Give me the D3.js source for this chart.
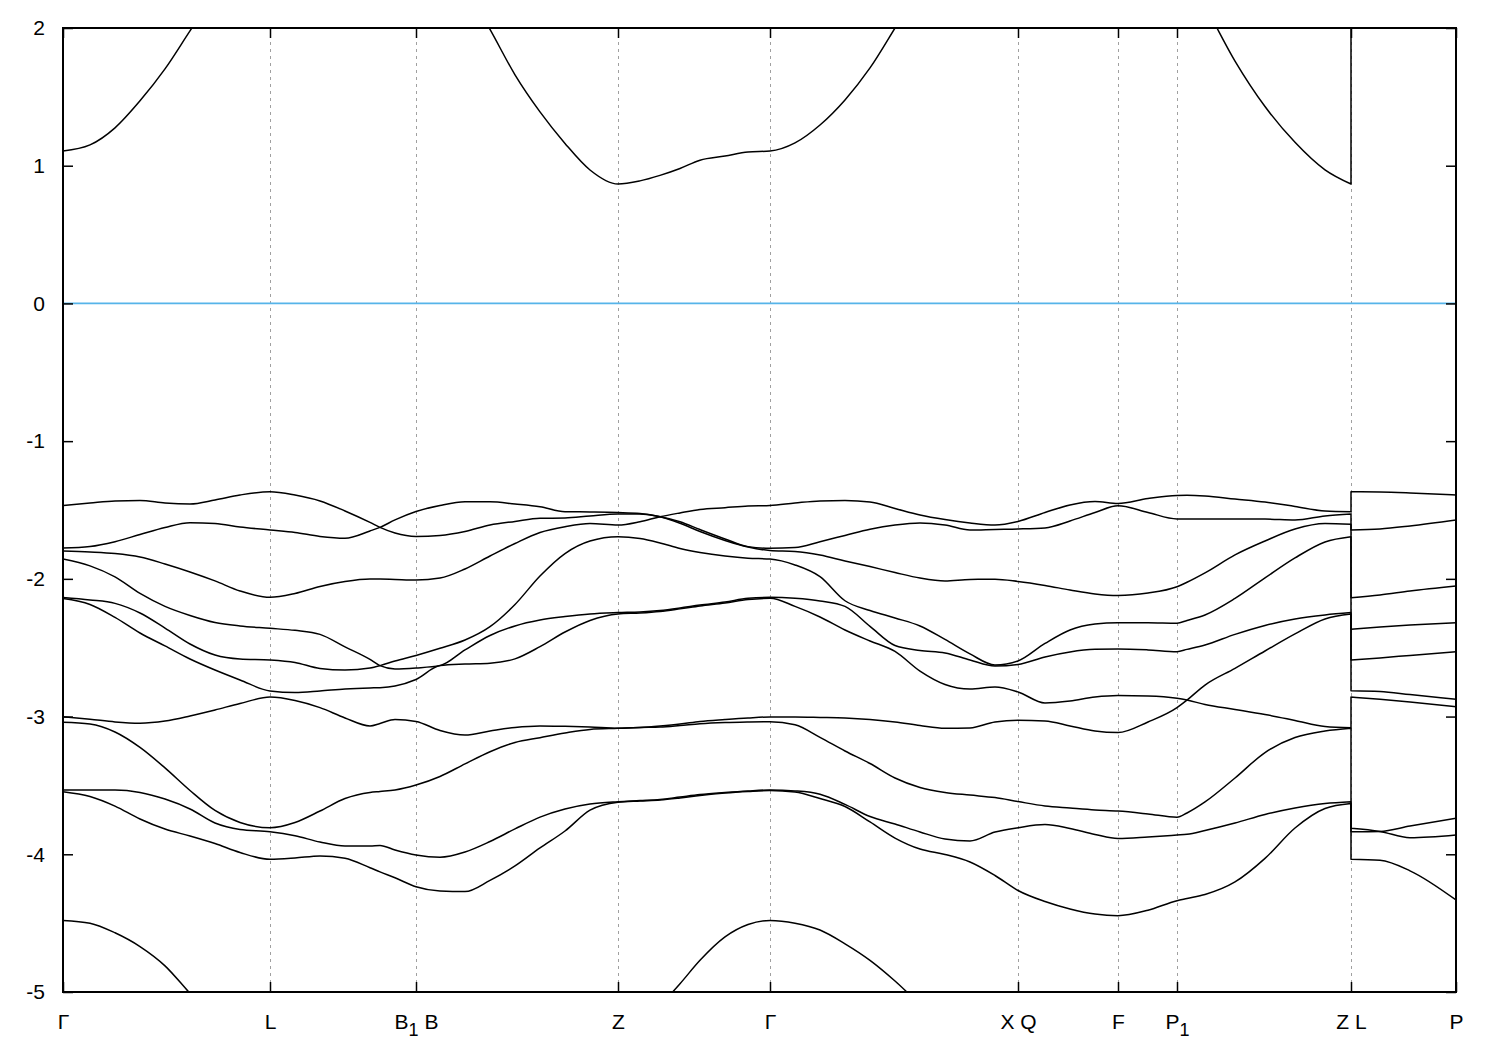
<!DOCTYPE html>
<html>
<head>
<meta charset="utf-8">
<script src="https://cdn.jsdelivr.net/npm/d3@7"></script>
<style>
  body { margin: 0; background: #fff; }
  svg { display: block; }
  text { font-family: "Liberation Sans", Arial, Helvetica, sans-serif; }
</style>
</head>
<body>
<svg id="chart" width="1500" height="1050"></svg>
<script>
// ---- Data ----------------------------------------------------------------
// k-path coordinate (path-length units); the repeated 12.88 marks the Z|L break
const kGrid = [0, 0.27, 0.52, 0.77, 1.02, 1.27, 1.52, 1.77, 2.07, 2.32, 2.57, 2.82, 3.07, 3.17, 3.32, 3.53,
  3.77, 4.02, 4.27, 4.52, 4.77, 5.02, 5.27, 5.55, 5.77, 5.97, 6.17, 6.37, 6.62, 6.85, 7.07, 7.32,
  7.57, 7.82, 8.07, 8.32, 8.57, 8.82, 9.07, 9.32, 9.55, 9.82, 10.07, 10.32, 10.55, 10.85, 11.14, 11.24,
  11.42, 11.72, 12.02, 12.32, 12.62, 12.88, 12.88, 13.17, 13.47, 13.93];
const breakIndex = 54; // first point of the L -> P segment

const kTickPos = [0, 2.07, 3.53, 5.55, 7.07, 9.55, 10.55, 11.14, 12.88, 13.93];
const kTickLabels = ["Γ", "L", "B_1 B", "Z", "Γ", "X Q", "F", "P_1", "Z L", "P"];
const energyTicks = [-5, -4, -3, -2, -1, 0, 1, 2];
const energyDomain = [-5, 2];

// band energies (eV), one value per kGrid point, each traced as a continuous line
const bandCond = [1.107, 1.151, 1.275, 1.471, 1.703, 1.979, 2.25, 2.45, 2.62, 2.72, 2.78, 2.80, 2.80, 2.79, 2.76, 2.70,
  2.55, 2.30, 1.99, 1.66, 1.391, 1.162, 0.969, 0.867, 0.89, 0.93, 0.98, 1.04, 1.07, 1.10, 1.107, 1.166,
  1.296, 1.478, 1.710, 2.00, 2.30, 2.55, 2.75, 2.90, 3.00, 3.05, 3.05, 3.00, 2.95, 2.78, 2.50, 2.38,
  2.16, 1.76, 1.43, 1.17, 0.97, 0.867, 2.60, 2.60, 2.60, 2.60];
const bandA = [-1.467, -1.449, -1.434, -1.431, -1.449, -1.456, -1.427, -1.391, -1.367, -1.391, -1.434, -1.507, -1.590, -1.626,
  -1.667, -1.692, -1.685, -1.656, -1.609, -1.583, -1.560, -1.558, -1.543, -1.529, -1.529, -1.549, -1.585, -1.642, -1.710, -1.766,
  -1.778, -1.773, -1.730, -1.685, -1.640, -1.609, -1.594, -1.609, -1.645, -1.641, -1.638, -1.630, -1.580, -1.518, -1.470, -1.518,
  -1.565, -1.565, -1.565, -1.566, -1.566, -1.573, -1.543, -1.529, -1.645, -1.638, -1.616, -1.573];
const bandB = [-1.776, -1.765, -1.730, -1.678, -1.627, -1.592, -1.598, -1.623, -1.645, -1.663, -1.692, -1.705, -1.652, -1.626,
  -1.572, -1.511, -1.467, -1.440, -1.440, -1.456, -1.476, -1.512, -1.514, -1.518, -1.525, -1.549,
  -1.596, -1.656, -1.721, -1.769, -1.794, -1.801, -1.827, -1.870, -1.911, -1.954, -1.994, -2.015, -2.004, -2.003, -2.019, -2.048,
  -2.081, -2.110, -2.121, -2.103, -2.057, -2.025, -1.957, -1.826, -1.725, -1.638, -1.598, -1.604, -2.137, -2.117, -2.088, -2.052];
const bandC = [-1.798, -1.805, -1.816, -1.841, -1.892, -1.950, -2.015, -2.088, -2.134, -2.106, -2.055, -2.019, -2.001, -2.001,
  -2.004, -2.008, -1.994, -1.928, -1.834, -1.743, -1.663, -1.621, -1.598, -1.609, -1.585, -1.549,
  -1.521, -1.496, -1.483, -1.471, -1.467, -1.449, -1.434, -1.431, -1.442, -1.489, -1.536, -1.569, -1.594, -1.609, -1.583, -1.518,
  -1.463, -1.438, -1.452, -1.416, -1.394, -1.393, -1.398, -1.420, -1.442, -1.474, -1.507, -1.512, -1.367, -1.369, -1.376, -1.391];
const bandD = [-1.856, -1.906, -1.986, -2.106, -2.200, -2.266, -2.317, -2.342, -2.359, -2.374, -2.403, -2.494, -2.585, -2.630,
  -2.654, -2.647, -2.630, -2.516, -2.411, -2.342, -2.299, -2.274, -2.255, -2.245, -2.240, -2.229, -2.211, -2.190, -2.168, -2.141,
  -2.134, -2.141, -2.160, -2.200, -2.345, -2.484, -2.520, -2.538, -2.589, -2.633, -2.622, -2.567, -2.531, -2.512, -2.509, -2.516,
  -2.529, -2.512, -2.480, -2.403, -2.338, -2.291, -2.262, -2.245, -2.589, -2.574, -2.556, -2.529];
const bandE = [-2.135, -2.153, -2.178, -2.248, -2.357, -2.473, -2.553, -2.582, -2.589, -2.607, -2.651, -2.662, -2.647, -2.630,
  -2.596, -2.556, -2.504, -2.444, -2.347, -2.186, -1.979, -1.816, -1.725, -1.694, -1.707, -1.739, -1.779, -1.808, -1.834, -1.850,
  -1.856, -1.899, -1.984, -2.159, -2.230, -2.284, -2.342, -2.440, -2.545, -2.625, -2.596, -2.469, -2.371, -2.328, -2.318, -2.318,
  -2.322, -2.302, -2.262, -2.142, -1.993, -1.848, -1.732, -1.694, -2.366, -2.349, -2.335, -2.318];
const bandF = [-2.143, -2.186, -2.280, -2.393, -2.487, -2.582, -2.662, -2.734, -2.814, -2.825, -2.814, -2.800, -2.792, -2.790,
  -2.778, -2.731, -2.630, -2.619, -2.613, -2.581, -2.492, -2.386, -2.302, -2.255, -2.248, -2.237, -2.218, -2.197, -2.175, -2.150,
  -2.141, -2.200, -2.277, -2.371, -2.451, -2.527, -2.670, -2.767, -2.800, -2.785, -2.821, -2.901, -2.887, -2.858, -2.847, -2.850,
  -2.867, -2.880, -2.912, -2.948, -2.985, -3.028, -3.072, -3.081, -2.858, -2.875, -2.894, -2.928];
const bandG = [-3.001, -3.019, -3.039, -3.048, -3.033, -2.996, -2.952, -2.905, -2.858, -2.883, -2.935, -3.010, -3.068, -3.050,
  -3.021, -3.035, -3.101, -3.134, -3.105, -3.079, -3.068, -3.071, -3.076, -3.085, -3.079, -3.068, -3.054, -3.035, -3.021, -3.010,
  -3.003, -3.003, -3.006, -3.010, -3.021, -3.039, -3.065, -3.085, -3.083, -3.039, -3.027, -3.032, -3.068, -3.105, -3.116, -3.039,
  -2.935, -2.880, -2.771, -2.650, -2.524, -2.400, -2.291, -2.255, -2.812, -2.818, -2.840, -2.874];
const bandH = [-3.041, -3.054, -3.112, -3.224, -3.373, -3.537, -3.682, -3.769, -3.807, -3.769, -3.686, -3.595, -3.551, -3.544,
  -3.533, -3.497, -3.435, -3.344, -3.255, -3.188, -3.153, -3.119, -3.093, -3.085, -3.079, -3.076, -3.065, -3.052, -3.043, -3.039,
  -3.037, -3.060, -3.151, -3.250, -3.341, -3.446, -3.515, -3.551, -3.570, -3.588, -3.617, -3.649, -3.664, -3.678, -3.686, -3.707,
  -3.731, -3.700, -3.620, -3.446, -3.261, -3.152, -3.105, -3.085, -3.811, -3.834, -3.880, -3.860];
const bandI = [-3.533, -3.533, -3.533, -3.551, -3.599, -3.671, -3.773, -3.820, -3.836, -3.865, -3.911, -3.940, -3.940, -3.936,
  -3.969, -4.005, -4.021, -3.983, -3.907, -3.816, -3.730, -3.671, -3.635, -3.618, -3.610, -3.602, -3.584, -3.566, -3.551, -3.540,
  -3.533, -3.540, -3.564, -3.638, -3.726, -3.780, -3.838, -3.889, -3.903, -3.838, -3.807, -3.784, -3.813, -3.856, -3.885, -3.874,
  -3.860, -3.855, -3.827, -3.773, -3.711, -3.664, -3.631, -3.618, -3.836, -3.834, -3.795, -3.739];
const bandJ = [-3.545, -3.580, -3.650, -3.744, -3.817, -3.867, -3.922, -3.987, -4.036, -4.027, -4.012, -4.029, -4.098, -4.128,
  -4.170, -4.236, -4.267, -4.271, -4.190, -4.085, -3.954, -3.831, -3.680, -3.622, -3.613, -3.606, -3.591, -3.573, -3.555, -3.544,
  -3.537, -3.548, -3.595, -3.653, -3.765, -3.882, -3.962, -4.001, -4.056, -4.154, -4.263, -4.343, -4.397, -4.434, -4.446, -4.406,
  -4.337, -4.321, -4.292, -4.201, -4.030, -3.809, -3.667, -3.631, -4.036, -4.044, -4.120, -4.332];
const bandK = [-4.48, -4.50, -4.57, -4.67, -4.81, -5.01, -5.20, -5.36, -5.50, -5.60, -5.68, -5.74, -5.78, -5.79,
  -5.80, -5.81, -5.81, -5.80, -5.78, -5.76, -5.73, -5.68, -5.58, -5.42, -5.25, -5.10, -4.94, -4.77, -4.60, -4.51,
  -4.48, -4.50, -4.55, -4.65, -4.77, -4.92, -5.09, -5.25, -5.40, -5.52, -5.60, -5.64, -5.66, -5.67, -5.67, -5.66,
  -5.65, -5.65, -5.64, -5.63, -5.62, -5.61, -5.60, -5.60, -5.62, -5.63, -5.64, -5.65];

const bands = [bandK, bandJ, bandI, bandH, bandG, bandF, bandE, bandD, bandC, bandB, bandA, bandCond];

// ---- Layout --------------------------------------------------------------
const plot = { left: 63, right: 1456, top: 28, bottom: 992 };
const svg = d3.select("#chart");

const x = d3.scaleLinear().domain([kGrid[0], kGrid[kGrid.length - 1]]).range([plot.left, plot.right]);
const y = d3.scaleLinear().domain(energyDomain).range([plot.bottom, plot.top]);

svg.append("defs").append("clipPath").attr("id", "clip")
  .append("rect")
  .attr("x", plot.left).attr("y", plot.top)
  .attr("width", plot.right - plot.left).attr("height", plot.bottom - plot.top);

// vertical dashed lines at the high-symmetry points
svg.append("g").selectAll("line")
  .data(kTickPos.slice(1, -1))
  .join("line")
  .attr("x1", d => Math.round(x(d)) + 0.5).attr("x2", d => Math.round(x(d)) + 0.5)
  .attr("y1", plot.top).attr("y2", plot.bottom)
  .attr("stroke", "#a0a0a0").attr("stroke-width", 1)
  .attr("stroke-dasharray", "3,4");

// Fermi level
svg.append("line")
  .attr("x1", plot.left).attr("x2", plot.right)
  .attr("y1", y(0)).attr("y2", y(0))
  .attr("stroke", "#56b4e9").attr("stroke-width", 1.7);

// bands
const lineGen = d3.line()
  .x(d => x(d[0]))
  .y(d => y(d[1]))
  .curve(d3.curveMonotoneX);

const gBands = svg.append("g").attr("clip-path", "url(#clip)");
bands.forEach(band => {
  const pts = kGrid.map((k, i) => [k, band[i]]);
  const segA = pts.slice(0, breakIndex);
  const segB = pts.slice(breakIndex);
  const d = lineGen(segA) + lineGen(segB).replace(/^M/, "L");
  gBands.append("path")
    .attr("d", d)
    .attr("fill", "none")
    .attr("stroke", "#000")
    .attr("stroke-width", 1.5)
    .attr("stroke-linejoin", "round");
});

// axes (ticks point inward, mirrored on all four sides)
const tickStyle = g => {
  g.select(".domain").remove();
  g.selectAll(".tick line").attr("stroke", "#000").attr("stroke-width", 1.5);
};

const yAxis = svg.append("g")
  .attr("transform", `translate(${plot.left},0)`)
  .call(d3.axisLeft(y).tickValues(energyTicks).tickSize(-10).tickPadding(18).tickFormat(d => String(d)))
  .call(tickStyle);
yAxis.selectAll(".tick text")
  .attr("font-size", 21)
  .attr("font-family", "'Liberation Sans', Arial, sans-serif")
  .attr("fill", "#000");

svg.append("g")
  .attr("transform", `translate(${plot.right},0)`)
  .call(d3.axisRight(y).tickValues(energyTicks).tickSize(-10).tickFormat(""))
  .call(tickStyle);

const xAxis = svg.append("g")
  .attr("transform", `translate(0,${plot.bottom})`)
  .call(d3.axisBottom(x).tickValues(kTickPos).tickSize(-10).tickPadding(22)
    .tickFormat((d, i) => kTickLabels[i]))
  .call(tickStyle);

svg.append("g")
  .attr("transform", `translate(0,${plot.top})`)
  .call(d3.axisTop(x).tickValues(kTickPos).tickSize(-10).tickFormat(""))
  .call(tickStyle);

// rebuild x tick labels with subscripts and a serif Gamma
xAxis.selectAll(".tick text").each(function (d, i) {
  const label = kTickLabels[i];
  const t = d3.select(this);
  t.text(null)
    .attr("font-size", 21)
    .attr("fill", "#000")
    .attr("font-family", label === "Γ" ? "'Liberation Serif', 'DejaVu Serif', serif" : "'Liberation Sans', Arial, sans-serif");
  const parts = label.split(/(_\d)/).filter(p => p.length);
  let shifted = false;
  parts.forEach(p => {
    if (p.startsWith("_")) {
      t.append("tspan").attr("dy", 7).attr("font-size", 18).text(p.slice(1));
      shifted = true;
    } else {
      const ts = t.append("tspan").text(p);
      if (shifted) { ts.attr("dy", -7); shifted = false; }
    }
  });
});

// frame
svg.append("rect")
  .attr("x", plot.left).attr("y", plot.top)
  .attr("width", plot.right - plot.left).attr("height", plot.bottom - plot.top)
  .attr("fill", "none").attr("stroke", "#000").attr("stroke-width", 2);
</script>
</body>
</html>
